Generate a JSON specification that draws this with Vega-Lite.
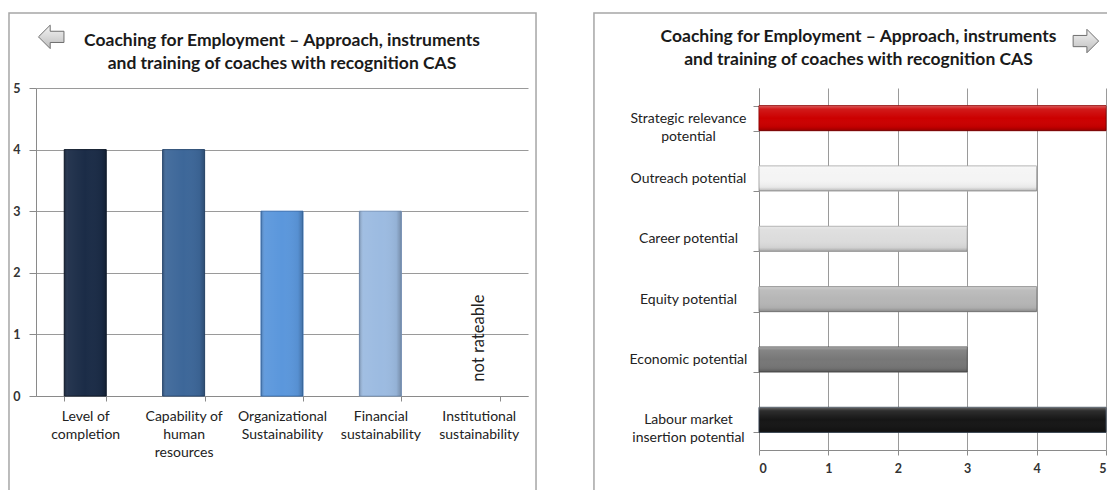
{
  "$schema": "https://vega.github.io/schema/vega-lite/v6.json",
  "background": "white",
  "padding": {"left": 8, "top": 12, "right": 0, "bottom": 0},
  "bounds": "flush",
  "spacing": 231,
  "resolve": {"scale": {"fill": "independent", "stroke": "independent"}},
  "config": {
    "font": "Lato",
    "view": {"stroke": null},
    "axis": {
      "labelFont": "Lato",
      "domainColor": "#8a8a8a",
      "tickColor": "#8a8a8a",
      "gridColor": "#9a9a9a",
      "gridOpacity": 1
    }
  },
  "datasets": {
    "criteria": [
      {"criterion": "Level of completion", "score": 4},
      {"criterion": "Capability of human resources", "score": 4},
      {"criterion": "Organizational Sustainability", "score": 3},
      {"criterion": "Financial sustainability", "score": 3},
      {"criterion": "Institutional sustainability", "score": null, "note": "not rateable"}
    ],
    "potentials": [
      {"potential": "Strategic relevance potential", "score": 5},
      {"potential": "Outreach potential", "score": 4},
      {"potential": "Career potential", "score": 3},
      {"potential": "Equity potential", "score": 4},
      {"potential": "Economic potential", "score": 3},
      {"potential": "Labour market insertion potential", "score": 5}
    ]
  },
  "hconcat": [
    {
      "width": 492,
      "height": 308,
      "title": {
        "text": ["Coaching for Employment – Approach, instruments", "and training of coaches with recognition CAS"],
        "font": "Lato",
        "fontSize": 17.5,
        "fontWeight": "bold",
        "color": "#1a1a1a",
        "lineHeight": 23,
        "offset": -60,
        "anchor": "middle",
        "frame": "group"
      },
      "resolve": {"scale": {"x": "independent"}, "axis": {"x": "independent"}},
      "layer": [
        {
          "layer": [
            {
              "data": {"name": "criteria"},
              "mark": {"type": "bar", "strokeWidth": 1},
              "encoding": {
                "x": {
                  "field": "criterion",
                  "type": "nominal",
                  "scale": {
                    "domain": ["Level of completion", "Capability of human resources", "Organizational Sustainability", "Financial sustainability", "Institutional sustainability"],
                    "paddingInner": 0.573,
                    "paddingOuter": 0.287
                  },
                  "axis": {
                    "title": null,
                    "labelAngle": 0,
                    "tickBand": "extent",
                    "tickSize": 5,
                    "labelFontSize": 14,
                    "labelColor": "#222222",
                    "labelPadding": 8,
                    "labelLineHeight": 18,
                    "labelExpr": "datum.value == 'Level of completion' ? ['Level of', 'completion'] : datum.value == 'Capability of human resources' ? ['Capability of', 'human', 'resources'] : datum.value == 'Organizational Sustainability' ? ['Organizational', 'Sustainability'] : datum.value == 'Financial sustainability' ? ['Financial', 'sustainability'] : datum.value == 'Institutional sustainability' ? ['Institutional', 'sustainability'] : ''"
                  }
                },
                "y": {
                  "field": "score",
                  "type": "quantitative",
                  "scale": {"domain": [0, 5], "nice": false},
                  "axis": {
                    "title": null,
                    "values": [0, 1, 2, 3, 4, 5],
                    "format": "d",
                    "grid": true,
                    "tickSize": 7,
                    "labelFontSize": 12.5,
                    "labelFontWeight": "bold",
                    "labelColor": "#333333",
                    "labelPadding": 9
                  }
                },
                "fill": {
                  "field": "criterion",
                  "type": "nominal",
                  "scale": {
                    "domain": ["Level of completion", "Capability of human resources", "Organizational Sustainability", "Financial sustainability"],
                    "range": ["#1b2c47", "#3d6799", "#5b97dc", "#9cbbe1"]
                  },
                  "legend": null
                },
                "stroke": {
                  "field": "criterion",
                  "type": "nominal",
                  "scale": {
                    "domain": ["Level of completion", "Capability of human resources", "Organizational Sustainability", "Financial sustainability"],
                    "range": ["#101b2c", "#2b4d76", "#3f76ba", "#7f9dc4"]
                  },
                  "legend": null
                }
              }
            },
            {
              "data": {"name": "criteria"},
              "mark": {
                "type": "bar",
                "fill": {
                  "gradient": "linear",
                  "x1": 0, "x2": 1, "y1": 0, "y2": 0,
                  "stops": [
                    {"offset": 0, "color": "rgba(0,0,0,0.22)"},
                    {"offset": 0.1, "color": "rgba(255,255,255,0.05)"},
                    {"offset": 0.5, "color": "rgba(255,255,255,0)"},
                    {"offset": 0.88, "color": "rgba(0,0,0,0.05)"},
                    {"offset": 1, "color": "rgba(0,0,0,0.25)"}
                  ]
                }
              },
              "encoding": {
                "x": {"field": "criterion", "type": "nominal"},
                "y": {"field": "score", "type": "quantitative"}
              }
            },
            {
              "data": {"name": "criteria"},
              "transform": [{"filter": "datum.note != null"}],
              "mark": {"type": "text", "angle": 270, "align": "center", "baseline": "middle", "fontSize": 16.5, "color": "#222222"},
              "encoding": {
                "x": {"field": "criterion", "type": "nominal"},
                "y": {"datum": 0.94, "type": "quantitative"},
                "text": {"field": "note"}
              }
            },
            {
              "data": {"values": [{}]},
              "mark": {
                "type": "point",
                "shape": "M -1 0 L -0.08 -0.92 L -0.08 -0.44 L 1 -0.44 L 1 0.44 L -0.08 0.44 L -0.08 0.92 Z",
                "size": 650,
                "filled": true,
                "opacity": 1,
                "fill": {
                  "gradient": "linear",
                  "x1": 0, "x2": 0, "y1": 0, "y2": 1,
                  "stops": [
                    {"offset": 0, "color": "#f4f4f4"},
                    {"offset": 1, "color": "#bdbdbd"}
                  ]
                },
                "stroke": "#6e6e6e",
                "strokeWidth": 1
              },
              "encoding": {
                "x": {"datum": "Level of completion", "type": "nominal", "bandPosition": -0.31},
                "y": {"datum": 5.83, "type": "quantitative", "scale": {"domain": [0, 5], "nice": false}}
              }
            }
          ]
        },
        {
          "data": {"values": [{}]},
          "mark": {"type": "rect", "fill": null, "stroke": "#a6a6a6", "strokeWidth": 1.5},
          "encoding": {
            "x": {"datum": -0.0549, "type": "quantitative", "scale": {"domain": [0, 1], "nice": false}, "axis": null},
            "x2": {"datum": 1.0163},
            "y": {"datum": 6.218, "type": "quantitative", "scale": {"domain": [0, 5], "nice": false}},
            "y2": {"datum": -1.65}
          }
        }
      ]
    },
    {
      "width": 347,
      "height": 362,
      "title": {
        "text": ["Coaching for Employment – Approach, instruments", "and training of coaches with recognition CAS"],
        "font": "Lato",
        "fontSize": 17.5,
        "fontWeight": "bold",
        "color": "#1a1a1a",
        "lineHeight": 23,
        "offset": -56,
        "anchor": "middle",
        "frame": "group",
        "dx": -74
      },
      "resolve": {"scale": {"y": "independent"}, "axis": {"y": "independent"}},
      "layer": [
        {
          "layer": [
            {
              "data": {"name": "potentials"},
              "mark": {"type": "bar", "strokeWidth": 1},
              "encoding": {
                "y": {
                  "field": "potential",
                  "type": "nominal",
                  "scale": {
                    "domain": ["Strategic relevance potential", "Outreach potential", "Career potential", "Equity potential", "Economic potential", "Labour market insertion potential"],
                    "paddingInner": 0.585,
                    "paddingOuter": 0.2925
                  },
                  "axis": {
                    "title": null,
                    "tickBand": "extent",
                    "tickSize": 6,
                    "labelAlign": "center",
                    "labelBaseline": "middle",
                    "labelPadding": 65,
                    "labelFontSize": 14,
                    "labelColor": "#222222",
                    "labelLineHeight": 18,
                    "labelLimit": 200,
                    "labelExpr": "datum.value == 'Strategic relevance potential' ? ['Strategic relevance', 'potential'] : datum.value == 'Labour market insertion potential' ? ['Labour market', 'insertion potential'] : datum.label"
                  }
                },
                "x": {
                  "field": "score",
                  "type": "quantitative",
                  "scale": {"domain": [0, 5], "nice": false},
                  "axis": {
                    "title": null,
                    "values": [0, 1, 2, 3, 4, 5],
                    "format": "d",
                    "grid": true,
                    "tickSize": 5,
                    "labelFontSize": 12.5,
                    "labelFontWeight": "bold",
                    "labelColor": "#333333",
                    "labelPadding": 7
                  }
                },
                "fill": {
                  "field": "potential",
                  "type": "nominal",
                  "scale": {
                    "domain": ["Strategic relevance potential", "Outreach potential", "Career potential", "Equity potential", "Economic potential", "Labour market insertion potential"],
                    "range": ["#cc0000", "#f4f4f4", "#dcdcdc", "#b6b6b6", "#777777", "#161616"]
                  },
                  "legend": null
                },
                "stroke": {
                  "field": "potential",
                  "type": "nominal",
                  "scale": {
                    "domain": ["Strategic relevance potential", "Outreach potential", "Career potential", "Equity potential", "Economic potential", "Labour market insertion potential"],
                    "range": ["#8e0000", "#a9a9a9", "#a0a0a0", "#8a8a8a", "#555555", "#2e3b4a"]
                  },
                  "legend": null
                }
              }
            },
            {
              "data": {"name": "potentials"},
              "mark": {
                "type": "bar",
                "fill": {
                  "gradient": "linear",
                  "x1": 0, "x2": 0, "y1": 0, "y2": 1,
                  "stops": [
                    {"offset": 0, "color": "rgba(255,255,255,0.35)"},
                    {"offset": 0.14, "color": "rgba(255,255,255,0.1)"},
                    {"offset": 0.5, "color": "rgba(255,255,255,0)"},
                    {"offset": 0.85, "color": "rgba(0,0,0,0.05)"},
                    {"offset": 1, "color": "rgba(0,0,0,0.25)"}
                  ]
                }
              },
              "encoding": {
                "y": {"field": "potential", "type": "nominal"},
                "x": {"field": "score", "type": "quantitative"}
              }
            },
            {
              "data": {"values": [{}]},
              "mark": {
                "type": "point",
                "shape": "M 1 0 L 0.08 -0.92 L 0.08 -0.44 L -1 -0.44 L -1 0.44 L 0.08 0.44 L 0.08 0.92 Z",
                "size": 650,
                "filled": true,
                "opacity": 1,
                "fill": {
                  "gradient": "linear",
                  "x1": 0, "x2": 0, "y1": 0, "y2": 1,
                  "stops": [
                    {"offset": 0, "color": "#f4f4f4"},
                    {"offset": 1, "color": "#bdbdbd"}
                  ]
                },
                "stroke": "#6e6e6e",
                "strokeWidth": 1
              },
              "encoding": {
                "y": {"datum": "Strategic relevance potential", "type": "nominal", "bandPosition": -2.58},
                "x": {"datum": 4.71, "type": "quantitative", "scale": {"domain": [0, 5], "nice": false}}
              }
            }
          ]
        },
        {
          "data": {"values": [{}]},
          "mark": {"type": "rect", "fill": null, "stroke": "#a6a6a6", "strokeWidth": 1.5},
          "encoding": {
            "x": {"datum": -2.378, "type": "quantitative", "scale": {"domain": [0, 5], "nice": false}},
            "x2": {"datum": 5.25},
            "y": {"datum": 1.207, "type": "quantitative", "scale": {"domain": [0, 1], "nice": false}, "axis": null},
            "y2": {"datum": -0.14}
          }
        }
      ]
    }
  ]
}
